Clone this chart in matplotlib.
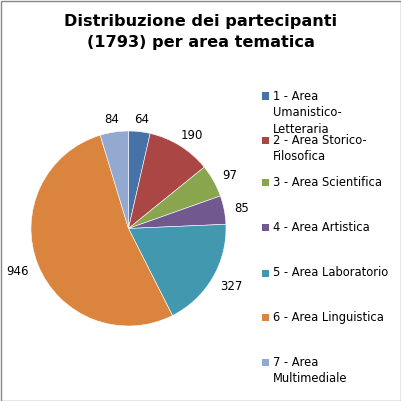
import matplotlib
matplotlib.use("Agg")
import numpy as np
import matplotlib.pyplot as plt
from matplotlib.patches import Rectangle

title = "Distribuzione dei partecipanti\n(1793) per area tematica"
labels = ["1 - Area\nUmanistico-\nLetteraria", "2 - Area Storico-\nFilosofica",
          "3 - Area Scientifica", "4 - Area Artistica", "5 - Area Laboratorio",
          "6 - Area Linguistica", "7 - Area\nMultimediale"]
values = [64, 190, 97, 85, 327, 946, 84]
colors = ["#4572A7", "#AA4643", "#89A54E", "#71588F", "#4198AF", "#DB843D", "#93A9CF"]

W = H = 401
fig = plt.figure(figsize=(4.01, 4.01), dpi=100)
fig.patch.set_facecolor("white")

cx, cy, r = 128.5, 228.5, 97.5
ax = fig.add_axes([(cx - r) / W, (H - cy - r) / H, 2 * r / W, 2 * r / H])
wedges, _ = ax.pie(values, colors=colors, startangle=90, counterclock=False,
                   wedgeprops=dict(edgecolor="white", linewidth=0.4))
fs = 8.5
for w, v in zip(wedges, values):
    mid = np.deg2rad((w.theta1 + w.theta2) / 2)
    d = 1.1
    px, py = d * np.cos(mid), d * np.sin(mid)
    s = str(v)
    half_w = len(s) * 0.636 * fs / 2
    half_h = 0.36 * fs
    ax.annotate(s, xy=(px, py), xytext=(np.cos(mid) * half_w * 1.1, np.sin(mid) * half_h - 1.2),
                textcoords="offset points", ha="center", va="center",
                fontsize=fs, color="#000000", annotation_clip=False)
ax.set_xlim(-1, 1)
ax.set_ylim(-1, 1)
ax.set_aspect("equal")
ax.axis("off")

fig.text(201 / W, 1 - 14 / H, title, ha="center", va="top", fontsize=11.6,
         fontweight="bold", linespacing=1.5)

leg_y = [96, 140, 183, 228, 273, 317, 362]
for lab, col, y in zip(labels, colors, leg_y):
    fig.patches.append(Rectangle((262 / W, 1 - (y + 3.5) / H), 7 / W, 7 / H,
                                 transform=fig.transFigure, facecolor=col,
                                 edgecolor="none"))
    fig.text(273 / W, 1 - (y - 6.5) / H, lab, ha="left", va="top", fontsize=8.3,
             linespacing=1.36)

fig.patches.append(Rectangle((0.5 / W, 0.5 / H), 1 - 1 / W, 1 - 1 / H,
                             transform=fig.transFigure, facecolor="none",
                             edgecolor="#878787", linewidth=1.0))

fig.savefig("out.png", dpi=100)
